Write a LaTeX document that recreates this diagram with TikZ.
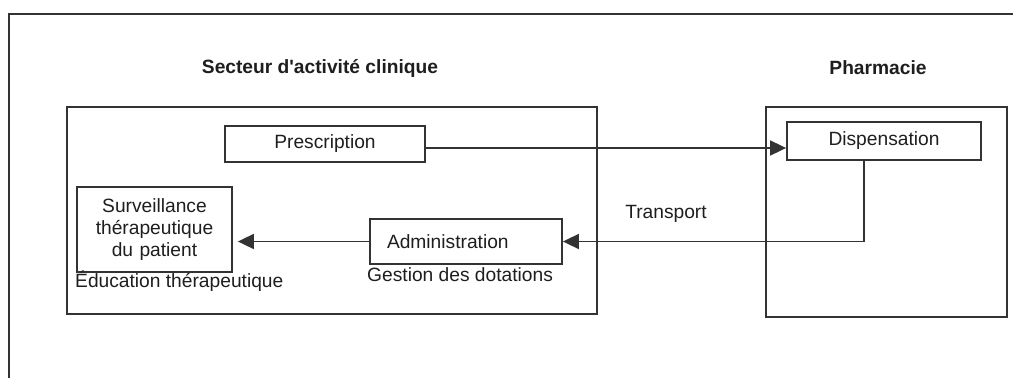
\documentclass[tikz,border=0pt]{standalone}
\usepackage{fontspec}
\setmainfont{Liberation Sans}
\usetikzlibrary{arrows.meta,calc}
\definecolor{ink}{HTML}{1E1E1E}
\definecolor{rule}{HTML}{333333}
\begin{document}
\begin{tikzpicture}[x=1pt,y=-1pt,
  txt/.style={font=\fontsize{19.2}{22}\selectfont, text=ink, inner sep=0pt},
  head/.style={txt, font=\fontsize{19.2}{22}\selectfont\bfseries},
  zone/.style={draw=rule, line width=1.9pt},
  box/.style={txt, draw=rule, line width=1.8pt, align=center},
  arr/.style={draw=rule, line width=1.8pt, -{Triangle[length=16pt,width=15pt]}},
  link/.style={draw=rule, line width=1.8pt}]
\useasboundingbox (0,0) rectangle (1013,378);
% page frame, open to the right and at the bottom
\draw[draw=rule, line width=2.6pt] (9,378) -- (9,14) -- (1013,14);

% the two areas
\draw[zone] (67,107) rectangle (597,314);
\draw[zone] (766,107) rectangle (1007,317);
\node[head] (tclin) at (320,68) {Secteur d\textquotesingle activité clinique};
\node[head] (tpha) at (878,68) {Pharmacie};

% steps
\node[box, minimum width=200, minimum height=36] (pres) at (325,144) {Prescription};
\node[box, minimum width=194, minimum height=38] (disp) at (884,141) {Dispensation};
\node[box, minimum width=192, minimum height=45, text width=158, inner xsep=17,
      align=left] (admin) at (466,241.5) {Administration};
\node[box, minimum width=155, minimum height=85, text width=155] (surv) at (154.5,229.5)
  {Surveillance\\thérapeutique\\du patient};

% side labels
\node[txt, anchor=west] (edu) at (75,281) {Éducation thérapeutique};
\node[txt, anchor=west] (gest) at (367,275) {Gestion des dotations};
\node[txt] (trans) at (666,214) {Transport};

% flows
\draw[arr] ([yshift=-4]pres.east) -- ([yshift=-4]pres.east -| disp.west);
\coordinate (dout) at ([xshift=-20]disp.south);
\draw[arr] (dout) |- (admin.east);
\draw[arr, shorten >=5pt] (admin.west) -- (admin.west -| surv.east);
\end{tikzpicture}
\end{document}
